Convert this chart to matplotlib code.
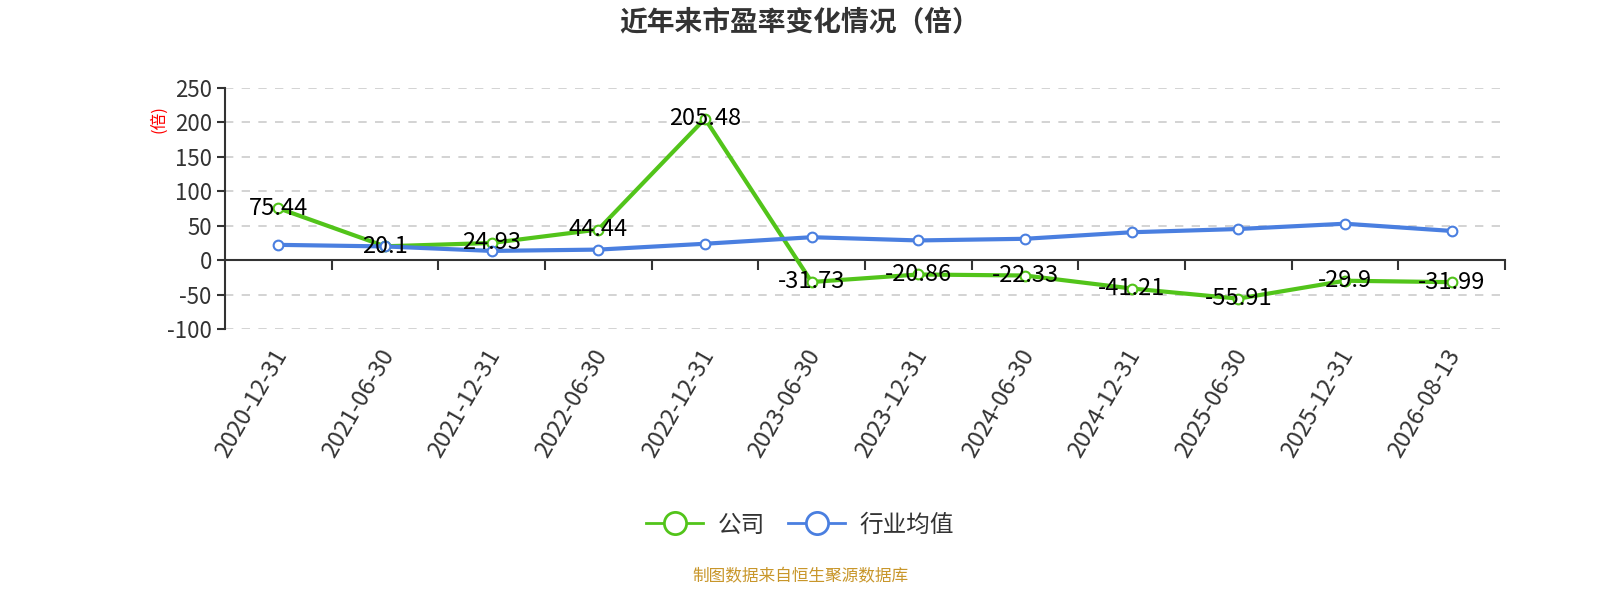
import numpy as np
import matplotlib.pyplot as plt
from matplotlib.lines import Line2D

plt.rcParams['font.family'] = ['Noto Sans CJK SC', 'DejaVu Sans']
plt.rcParams['axes.unicode_minus'] = False

dates = ["2020-12-31", "2021-06-30", "2021-12-31", "2022-06-30", "2022-12-31", "2023-06-30",
         "2023-12-31", "2024-06-30", "2024-12-31", "2025-06-30", "2025-12-31", "2026-08-13"]
company = [75.44, 20.1, 24.93, 44.44, 205.48, -31.73, -20.86, -22.33, -41.21, -55.91, -29.9, -31.99]
industry = [22.2, 19.9, 13.4, 15.3, 23.8, 33.3, 28.6, 31.0, 40.5, 45.2, 52.9, 42.4]

green = "#52c41a"
blue = "#4a7fe0"

fig = plt.figure(figsize=(16, 6), dpi=100)
ax = fig.add_axes([0.1406, 0.4517, 0.80, 0.4016])

x = np.arange(len(dates))
ax.plot(x, company, color=green, lw=3, marker="o", ms=7, mfc="white", mec=green, mew=1.5, zorder=3)
ax.plot(x, industry, color=blue, lw=3, marker="o", ms=7, mfc="white", mec=blue, mew=1.5, zorder=3)

for xi, v in zip(x, company):
    ax.text(xi, v, f"{v:g}", ha="center", va="center", fontsize=17, color="black", zorder=4)

ax.set_xlim(-0.5, len(dates) - 0.5)
ax.set_ylim(-100, 250)
ax.set_yticks([-100, -50, 0, 50, 100, 150, 200, 250])
ax.grid(axis="y", linestyle=(0, (5, 5)), color="#cccccc", lw=1.2)
ax.set_axisbelow(True)

for s in ["top", "right"]:
    ax.spines[s].set_visible(False)
ax.spines["bottom"].set_position(("data", 0))
ax.spines["bottom"].set_color("#333333")
ax.spines["bottom"].set_linewidth(1.5)
ax.spines["left"].set_color("#333333")
ax.spines["left"].set_linewidth(1.5)

ax.set_xticks(x + 0.5)
ax.set_xticklabels([])
ax.tick_params(axis="x", length=7, width=1.5, color="#333333", direction="out")
ax.tick_params(axis="y", length=6, width=1.5, color="#333333", labelsize=16, labelcolor="#333333")

for xi, d in zip(x, dates):
    ax.text(xi - 0.06, -100 - 24, d, rotation=60, ha="right", va="top", fontsize=17,
            color="#333333", rotation_mode="anchor")

ax.text(-0.052, 0.87, "(倍)", transform=ax.transAxes, rotation=90, color="red", fontsize=12,
        ha="center", va="center")

fig.text(0.5, 0.962, "近年来市盈率变化情况（倍）", ha="center", va="center", fontsize=20,
         fontweight="bold", color="#333333")

handles = [
    Line2D([], [], color=green, lw=2, marker="o", ms=16, mfc="white", mec=green, mew=2),
    Line2D([], [], color=blue, lw=2, marker="o", ms=16, mfc="white", mec=blue, mew=2),
]
leg = fig.legend(handles, ["公司", "行业均值"], loc="center", bbox_to_anchor=(0.5, 0.125), ncol=2,
                 frameon=False, fontsize=17, handlelength=2.4, columnspacing=1.0, handletextpad=0.6)
for t in leg.get_texts():
    t.set_color("#333333")

fig.text(0.5, 0.038, "制图数据来自恒生聚源数据库", ha="center", va="center", fontsize=12, color="#c8962a")

fig.savefig("out.png", dpi=100)
